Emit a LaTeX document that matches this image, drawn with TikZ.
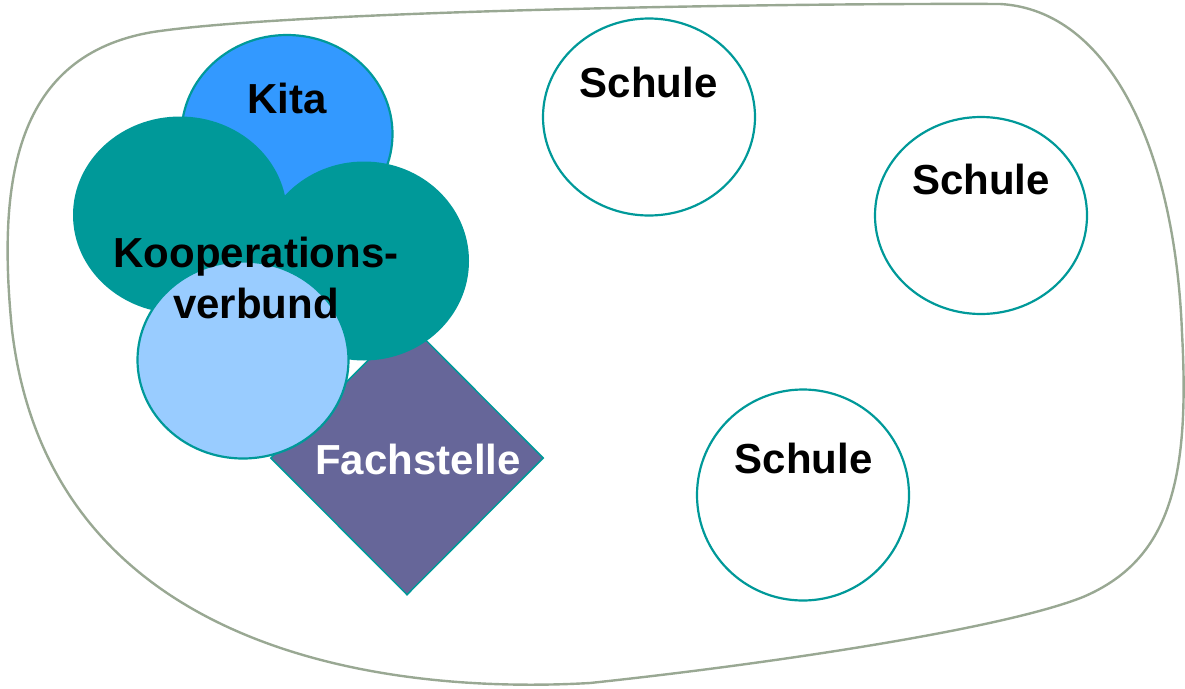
\documentclass[tikz,border=0pt]{standalone}
\usepackage{fontspec}
\setmainfont{Liberation Sans}
\usetikzlibrary{shapes.geometric}
\definecolor{tealc}{HTML}{009999}
\definecolor{kitablue}{HTML}{3399FF}
\definecolor{lightblue}{HTML}{99CCFF}
\definecolor{fachc}{HTML}{666699}
\definecolor{blobc}{HTML}{99A893}
\tikzset{
  blob/.style={draw=blobc, line width=2.4pt},
  oval/.style={ellipse, inner sep=0pt, line width=2.2pt},
  schule/.style={oval, draw=tealc, fill=white},
  lbl/.style={anchor=base, inner sep=0pt, font=\fontsize{42}{50.4}\selectfont\bfseries, align=center},
}
\begin{document}
\begin{tikzpicture}[x=1pt,y=-1pt]
\useasboundingbox (0,0) rectangle (1185,688);
% outer region
\coordinate (bTL) at (153,32);
\coordinate (bTR) at (1000,4);
\coordinate (bR)  at (1182,333);
\coordinate (bBR) at (1083,597);
\coordinate (bB)  at (590,683);
\coordinate (bL)  at (12,330);
\draw[blob] (bTL) .. controls (300,10) and (800,3) .. (bTR)
  .. controls (1110,10) and (1175,150) .. (bR)
  .. controls (1190,480) and (1170,560) .. (bBR)
  .. controls (1000,630) and (760,665) .. (bB)
  .. controls (380,695) and (50,650) .. (bL)
  .. controls (-3,180) and (15,55) .. (bTL) -- cycle;
% Fachstelle diamond
\node[diamond, draw=tealc, fill=fachc, line width=1.5pt, inner sep=0pt,
      minimum width=273pt, minimum height=274pt] (fach) at (407,458) {};
% Kita
\node[oval, draw=tealc, fill=kitablue, minimum width=211pt, minimum height=198pt] (kita) at (287,134) {};
% Kooperationsverbund ellipses
\node[oval, fill=tealc, minimum width=214pt, minimum height=197pt] (koopL) at (180,215) {};
\node[oval, fill=tealc, minimum width=210pt, minimum height=199pt] (koopR) at (364,261) {};
% light blue
\node[oval, draw=tealc, fill=lightblue, minimum width=211pt, minimum height=197pt] (lb) at (243,360) {};
% Schulen
\node[schule, minimum width=212pt, minimum height=197pt] (s1) at (649,117) {};
\node[schule, minimum width=212pt, minimum height=197pt] (s2) at (981,215.5) {};
\node[schule, minimum width=212pt, minimum height=211pt] (s3) at (803,495) {};
% labels
\node[lbl] (tkita) at (287,113) {Kita};
\node[lbl] (tkoop1) at (256,267) {Kooperations-};
\node[lbl] (tkoop2) at (256,318) {verbund};
\node[lbl, text=white] (tfach) at (418,474) {Fachstelle};
\node[lbl] (ts1) at (648.5,97) {Schule};
\node[lbl] (ts2) at (981,194) {Schule};
\node[lbl] (ts3) at (803.5,473) {Schule};
\end{tikzpicture}
\end{document}
